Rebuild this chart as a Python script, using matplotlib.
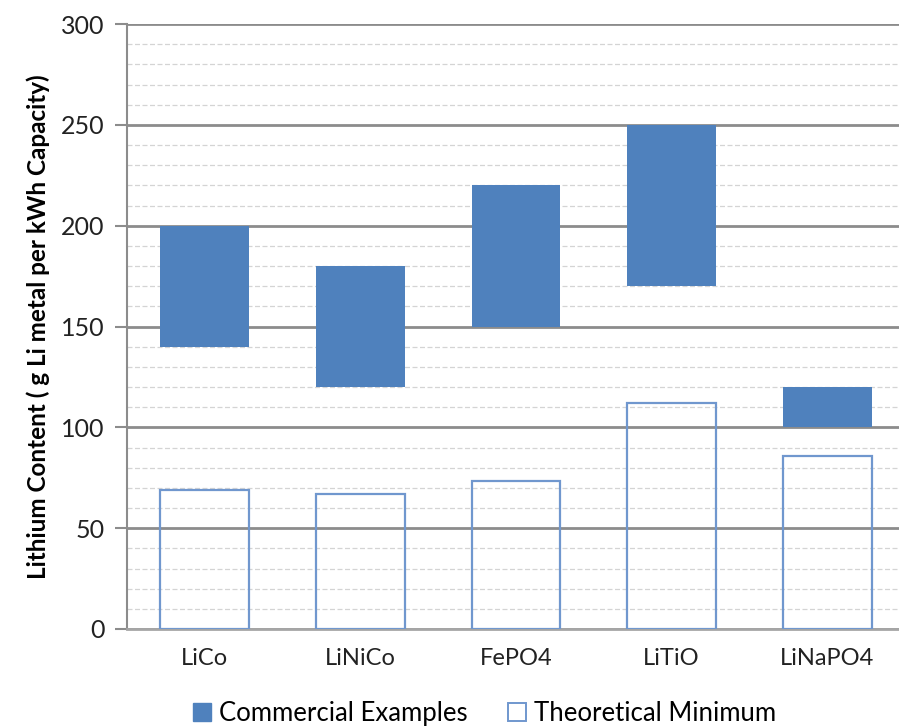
import numpy as np
import matplotlib.pyplot as plt
from matplotlib.patches import Patch

plt.rcParams['font.family'] = ['Lato', 'DejaVu Sans']

# battery chemistries and lithium content (g Li per kWh)
chemistries = ['LiCo', 'LiNiCo', 'FePO4', 'LiTiO', 'LiNaPO4']
commercial_low = [140, 120, 150, 170, 100]
commercial_high = [200, 180, 220, 250, 120]
theoretical_min = [69, 67, 73.5, 112, 86]

blue = '#4F81BD'
x = np.arange(len(chemistries))
width = 0.57

fig = plt.figure(figsize=(8.99, 7.28), dpi=100)
ax = fig.add_axes([127/899, 1-629/728, 778/899, 605/728])

# gridlines: light dashed every 10, darker solid every 50
ax.set_ylim(0, 300)
ax.set_xlim(-0.5, len(chemistries) - 0.5)
ax.set_yticks(np.arange(0, 301, 50))
ax.set_yticks(np.arange(0, 301, 10), minor=True)
ax.grid(which='minor', axis='y', color='#d4d4d4', linestyle=(0, (4, 2)), linewidth=0.9)
ax.grid(which='major', axis='y', color='#8c8c8c', linestyle='-', linewidth=2)
ax.set_axisbelow(True)

spans = np.array(commercial_high) - np.array(commercial_low)
ax.bar(x, spans, width, bottom=commercial_low, color=blue, zorder=3)
ax.bar(x, theoretical_min, width, facecolor='none', edgecolor='#7097CE',
       linewidth=1.6, zorder=3)

for side in ['top', 'right']:
    ax.spines[side].set_visible(False)
ax.spines['left'].set_color('#8c8c8c')
ax.spines['left'].set_linewidth(1.5)
ax.spines['bottom'].set_color('#a6a6a6')
ax.spines['bottom'].set_linewidth(2)

ax.set_xticks(x)
ax.set_xticklabels(chemistries, fontsize=17)
ax.tick_params(axis='x', length=0, pad=14, colors='#222222')
ax.tick_params(axis='y', which='major', length=9, width=1.5, color='#8c8c8c',
               labelsize=18, pad=7, labelcolor='#222222')
ax.tick_params(axis='y', which='minor', length=0)

ax.set_ylabel('Lithium Content ( g Li metal per kWh Capacity)', fontsize=17.5,
              fontweight='bold', labelpad=8)

handles = [Patch(facecolor=blue, edgecolor=blue),
           Patch(facecolor='white', edgecolor='#7097CE', linewidth=1.4)]
fig.legend(handles, ['Commercial Examples', 'Theoretical Minimum'],
           loc='center', bbox_to_anchor=(0.539, 0.02), ncol=2,
           frameon=False, fontsize=18.5, handlelength=0.7, handleheight=0.7,
           handletextpad=0.3, columnspacing=1.6, borderpad=0.1)

fig.savefig('out.png', dpi=100)
